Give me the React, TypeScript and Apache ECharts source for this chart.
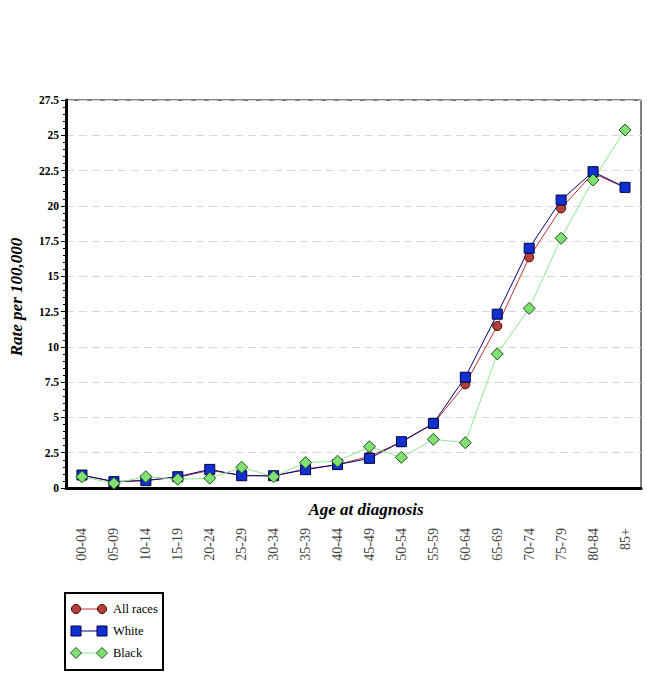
import React, { useEffect, useRef } from "react";
import * as echarts from "echarts";

const categories = ["00-04","05-09","10-14","15-19","20-24","25-29","30-34","35-39","40-44","45-49","50-54","55-59","60-64","65-69","70-74","75-79","80-84","85+"];
const allRaces = [0.9, 0.45, 0.55, 0.75, 1.25, 0.9, 0.85, 1.35, 1.65, 2.25, 3.25, 4.55, 7.35, 11.48, 16.35, 19.82, 22.3, 21.3];
const white = [0.92, 0.45, 0.52, 0.8, 1.32, 0.87, 0.87, 1.3, 1.66, 2.1, 3.28, 4.58, 7.85, 12.32, 16.99, 20.41, 22.42, 21.31];
const black = [0.8, 0.33, 0.8, 0.62, 0.69, 1.47, 0.8, 1.8, 1.9, 2.93, 2.17, 3.45, 3.21, 9.5, 12.73, 17.7, 21.83, 25.37];
const legendNames = ["All races", "White", "Black"];

const SERIF = "Liberation Serif";

export default function App() {
  const ref = useRef<HTMLDivElement>(null);
  useEffect(() => {
    if (!ref.current) return;
    const chart = echarts.init(ref.current, null, { renderer: "svg" });
    const gl = 66, gt = 100, gr = 6, gb = 203;
    const legendY = [609, 631, 653];
    const legendGraphic: any[] = [
      { type: "rect", shape: { x: 65, y: 593, width: 98, height: 77 }, style: { fill: "#fff", stroke: "#000", lineWidth: 2 } },
    ];
    legendY.forEach((y, i) => {
      const lineColor = ["#c03030", "#000080", "#90e890"][i];
      legendGraphic.push({ type: "line", shape: { x1: 76, y1: y, x2: 102, y2: y }, style: { stroke: lineColor, lineWidth: 1 } });
      [76, 102].forEach((x) => {
        if (i === 0) legendGraphic.push({ type: "circle", shape: { cx: x, cy: y, r: 4.5 }, style: { fill: "#b5403a", stroke: "#400000", lineWidth: 1 } });
        if (i === 1) legendGraphic.push({ type: "rect", shape: { x: x - 5, y: y - 5, width: 10, height: 10 }, style: { fill: "#1030d0", stroke: "#000040", lineWidth: 1 } });
        if (i === 2) legendGraphic.push({ type: "polygon", shape: { points: [[x, y - 5.5], [x + 5.5, y], [x, y + 5.5], [x - 5.5, y]] }, style: { fill: "#80e070", stroke: "#205020", lineWidth: 1 } });
      });
      legendGraphic.push({ type: "text", x: 113, y, style: { text: legendNames[i], fontFamily: SERIF, fontSize: 12.5, fill: "#000", verticalAlign: "middle" } });
    });

    chart.setOption({
      animation: false,
      backgroundColor: "#fff",
      grid: { left: gl, top: gt, right: gr, bottom: gb, show: true, borderColor: "#000", borderWidth: 1 },
      xAxis: {
        type: "category",
        data: categories,
        boundaryGap: true,
        axisLine: { lineStyle: { color: "#000", width: 3 } },
        axisTick: { alignWithLabel: true, length: 5, lineStyle: { color: "#000", width: 1 } },
        axisLabel: { rotate: 90, margin: 40, fontFamily: SERIF, fontSize: 14, color: "#444" },
        splitLine: { show: false },
      },
      yAxis: {
        type: "value",
        min: 0,
        max: 27.5,
        interval: 2.5,
        axisLine: { show: true, lineStyle: { color: "#000", width: 3 } },
        axisTick: { show: true, length: 5, lineStyle: { color: "#000" } },
        minorTick: { show: true, splitNumber: 5, length: 3, lineStyle: { color: "#000" } },
        axisLabel: { fontFamily: SERIF, fontSize: 11.5, fontWeight: "bold", color: "#000", margin: 7 },
        splitLine: { show: true, lineStyle: { color: "#d8d8d8", type: [8, 5], width: 1 } },
      },
      graphic: [
        { type: "text", x: 366, y: 509, style: { text: "Age at diagnosis", fontFamily: SERIF, fontSize: 17, fontWeight: "bold", fontStyle: "italic", fill: "#000", align: "center", verticalAlign: "middle" } },
        { type: "text", x: 16, y: 297, rotation: Math.PI / 2, style: { text: "Rate per 100,000", fontFamily: SERIF, fontSize: 17, fontWeight: "bold", fontStyle: "italic", fill: "#000", align: "center", verticalAlign: "middle" } },
        ...legendGraphic,
      ],
      series: [
        { name: "All races", type: "line", data: allRaces, symbol: "circle", symbolSize: 9, lineStyle: { color: "#c03030", width: 1 }, itemStyle: { color: "#b5403a", borderColor: "#400000", borderWidth: 1 } },
        { name: "White", type: "line", data: white, symbol: "rect", symbolSize: 10, lineStyle: { color: "#000080", width: 1 }, itemStyle: { color: "#1030d0", borderColor: "#000040", borderWidth: 1 } },
        { name: "Black", type: "line", data: black, symbol: "diamond", symbolSize: 12, lineStyle: { color: "#90e890", width: 1 }, itemStyle: { color: "#80e070", borderColor: "#205020", borderWidth: 1 } },
      ],
    });
    return () => chart.dispose();
  }, []);
  return <div ref={ref} style={{ width: 647, height: 691, position: "absolute", left: 0, top: 0 }} />;
}
